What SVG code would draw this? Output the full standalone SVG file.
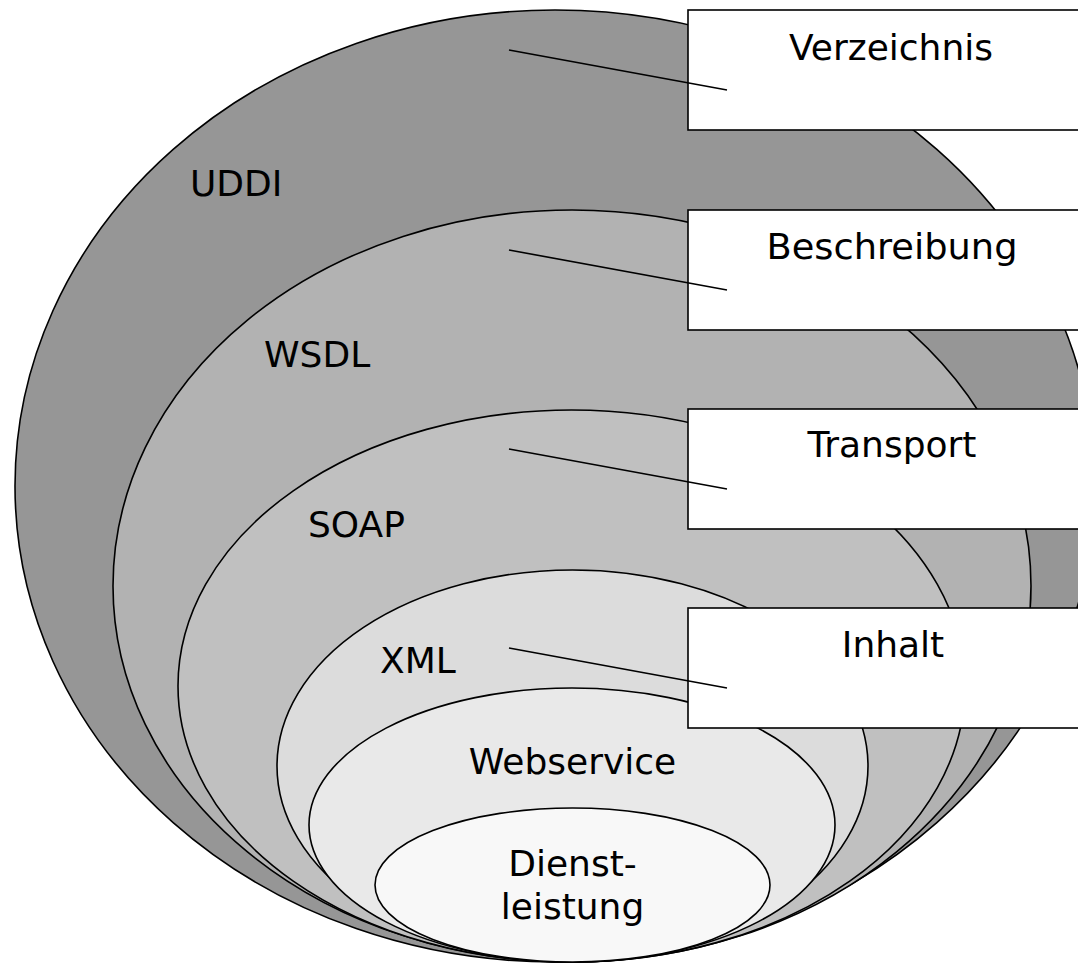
<svg xmlns="http://www.w3.org/2000/svg" width="1078" height="963" viewBox="0 0 1078 963">
  <style>
    .layer { stroke: #000; stroke-width: 1.6; }
    .box { fill: #fff; stroke: #000; stroke-width: 1.6; }
    .lbl { font-family: "DejaVu Sans", "Liberation Sans", sans-serif; font-size: 36px; fill: #000; }
    .mid { text-anchor: middle; }
    .lead { stroke: #000; stroke-width: 1.6; fill: none; }
  </style>
  <rect width="1078" height="963" fill="#fff"/>
  <g id="uddi">
    <ellipse class="layer" cx="555" cy="486" rx="540" ry="476" fill="#969696"/>
    <text class="lbl" x="190" y="196">UDDI</text>
  </g>
  <g id="wsdl">
    <ellipse class="layer" cx="572" cy="586" rx="459" ry="376" fill="#b2b2b2"/>
    <text class="lbl" x="264" y="367">WSDL</text>
  </g>
  <g id="soap">
    <ellipse class="layer" cx="571.5" cy="686" rx="393.5" ry="276" fill="#c0c0c0"/>
    <text class="lbl" x="308" y="537">SOAP</text>
  </g>
  <g id="xml">
    <ellipse class="layer" cx="572.5" cy="766" rx="295.5" ry="196" fill="#dcdcdc"/>
    <text class="lbl" x="380" y="673">XML</text>
  </g>
  <g id="webservice">
    <ellipse class="layer" cx="572" cy="825" rx="263" ry="137" fill="#e9e9e9"/>
    <text class="lbl mid" x="572.5" y="774">Webservice</text>
  </g>
  <g id="dienstleistung">
    <ellipse class="layer" cx="572.5" cy="885" rx="197.5" ry="77" fill="#f8f8f8"/>
    <text class="lbl mid" x="572.5" y="876">Dienst-</text>
    <text class="lbl mid" x="572.5" y="919">leistung</text>
  </g>
  <g id="box-verzeichnis">
    <rect class="box" x="688" y="10" width="420" height="120"/>
    <text class="lbl mid" x="891" y="60">Verzeichnis</text>
  </g>
  <g id="box-beschreibung">
    <rect class="box" x="688" y="210" width="420" height="120"/>
    <text class="lbl mid" x="892" y="259" textLength="251" lengthAdjust="spacingAndGlyphs">Beschreibung</text>
  </g>
  <g id="box-transport">
    <rect class="box" x="688" y="409" width="420" height="120"/>
    <text class="lbl mid" x="892" y="457">Transport</text>
  </g>
  <g id="box-inhalt">
    <rect class="box" x="688" y="608" width="420" height="120"/>
    <text class="lbl mid" x="893" y="657">Inhalt</text>
  </g>
  <g id="connectors">
    <line class="lead" x1="509" y1="50" x2="727" y2="90"/>
    <line class="lead" x1="509" y1="250" x2="727" y2="290"/>
    <line class="lead" x1="509" y1="449" x2="727" y2="489"/>
    <line class="lead" x1="509" y1="648" x2="727" y2="688"/>
  </g>
</svg>
